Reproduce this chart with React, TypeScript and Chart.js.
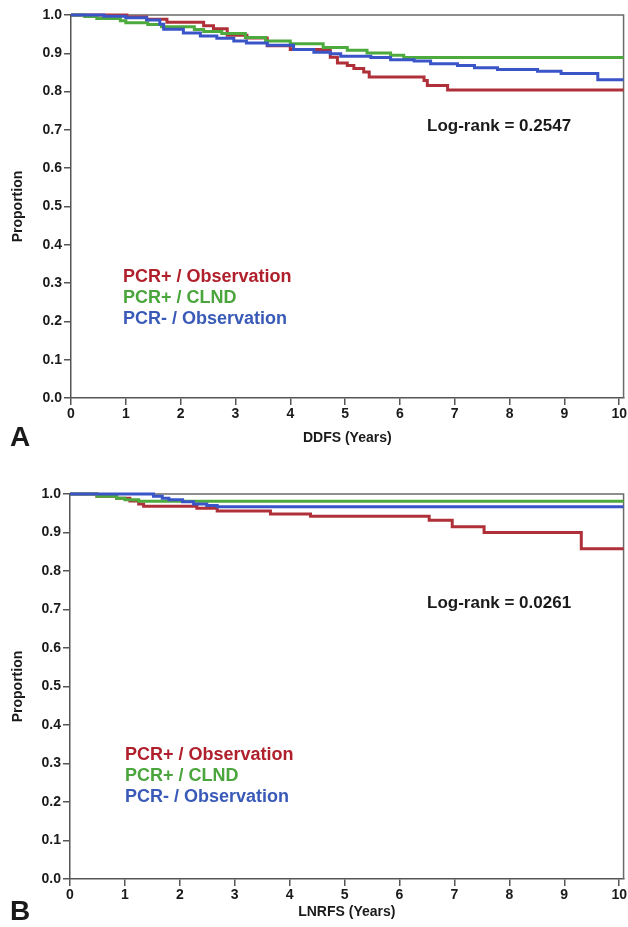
import React, { useEffect, useRef } from "react";
import { Chart, registerables } from "chart.js";

Chart.register(...registerables);

// ---------- data ----------
const xTickValues = [0, 1, 2, 3, 4, 5, 6, 7, 8, 9, 10];
const yTickValues = [0, 0.1, 0.2, 0.3, 0.4, 0.5, 0.6, 0.7, 0.8, 0.9, 1.0];
const xMax = 10.08;
const groupNames = ["PCR+ / Observation", "PCR+ / CLND", "PCR- / Observation"];

// Panel A: DDFS
const aRedTimes = [0, 1.02, 1.38, 1.75, 2.42, 2.6, 2.85, 3.21, 3.58, 4.0, 4.73, 4.86, 5.04, 5.16, 5.34, 5.44, 6.44, 6.5, 6.87, 10.08];
const aRedProps = [1.0, 0.995, 0.989, 0.981, 0.972, 0.964, 0.947, 0.94, 0.92, 0.91, 0.89, 0.875, 0.868, 0.86, 0.851, 0.838, 0.829, 0.816, 0.804, 0.804];
const aGreenTimes = [0, 0.25, 0.47, 0.9, 1.0, 1.4, 1.65, 2.25, 2.42, 2.75, 3.18, 3.55, 4.0, 4.6, 5.04, 5.4, 5.83, 6.07, 10.08];
const aGreenProps = [1.0, 0.996, 0.991, 0.985, 0.98, 0.975, 0.969, 0.962, 0.957, 0.952, 0.941, 0.932, 0.925, 0.915, 0.908, 0.901, 0.895, 0.889, 0.889];
const aBlueTimes = [0, 0.6, 1.0, 1.38, 1.62, 1.69, 2.05, 2.36, 2.66, 2.97, 3.2, 3.58, 4.06, 4.43, 4.73, 4.92, 5.47, 5.83, 6.26, 6.56, 7.05, 7.36, 7.78, 8.51, 8.94, 9.61, 10.08];
const aBlueProps = [1.0, 0.997, 0.993, 0.987, 0.976, 0.963, 0.953, 0.945, 0.939, 0.932, 0.927, 0.921, 0.91, 0.903, 0.899, 0.892, 0.889, 0.883, 0.88, 0.873, 0.868, 0.862, 0.858, 0.853, 0.847, 0.831, 0.831];

// Panel B: LNRFS
const bRedTimes = [0, 0.49, 0.85, 1.09, 1.25, 1.34, 2.31, 2.68, 3.65, 4.38, 6.54, 6.96, 7.54, 9.31, 10.08];
const bRedProps = [1.0, 0.994, 0.989, 0.982, 0.974, 0.968, 0.963, 0.956, 0.948, 0.942, 0.932, 0.915, 0.9, 0.858, 0.858];
const bGreenTimes = [0, 0.49, 0.85, 1.0, 1.25, 10.08];
const bGreenProps = [1.0, 0.994, 0.989, 0.985, 0.981, 0.981];
const bBlueTimes = [0, 1.52, 1.68, 1.8, 2.05, 2.25, 2.49, 2.68, 10.08];
const bBlueProps = [1.0, 0.994, 0.989, 0.985, 0.98, 0.974, 0.97, 0.967, 0.967];

const aLogRank = "Log-rank = 0.2547";
const bLogRank = "Log-rank = 0.0261";

// ---------- styles ----------
const lineColors = ["#b0303a", "#4daa3c", "#3a55c8"];
const textColors = ["#b0202c", "#4aa53c", "#3a5ab8"];
const FONT = "'Liberation Sans', Arial, Helvetica, sans-serif";

type PanelProps = {
  canvasTop: number;
  canvasHeight: number;
  padTop: number;
  axisLeft: number;
  xAxisHeight: number;
  letter: string;
  xTitle: string;
  xTitleOffset: number;
  logRank: string;
  logRankX: number;
  logRankY: number;
  legendX: number;
  legendY: number;
  times: number[][];
  props: number[][];
};

function toPoints(t: number[], p: number[]) {
  return t.map((x, i) => ({ x, y: p[i] }));
}

function Panel(pp: PanelProps) {
  const ref = useRef<HTMLCanvasElement | null>(null);
  useEffect(() => {
    if (!ref.current) return;
    const decor = {
      id: "decor",
      beforeDatasetsDraw(chart: any) {
        const ctx = chart.ctx;
        const { left, right, top, bottom } = chart.chartArea;
        ctx.save();
        ctx.strokeStyle = "#6a6a6a";
        ctx.lineWidth = 1.5;
        ctx.beginPath();
        ctx.moveTo(left, top);
        ctx.lineTo(right, top);
        ctx.lineTo(right, bottom);
        ctx.stroke();
        ctx.restore();
      },
      afterDraw(chart: any) {
        const ctx = chart.ctx;
        const { left, right, top, bottom } = chart.chartArea;
        ctx.save();
        ctx.fillStyle = "#1a1a1a";
        ctx.textBaseline = "middle";
        // x title
        ctx.font = `bold 14px ${FONT}`;
        ctx.textAlign = "center";
        ctx.fillText(pp.xTitle, (left + right) / 2, bottom + pp.xTitleOffset);
        // panel letter
        ctx.font = `bold 28px ${FONT}`;
        ctx.textAlign = "left";
        ctx.fillText(pp.letter, 10, bottom + pp.xTitleOffset);
        // y title
        ctx.save();
        ctx.translate(18, (top + bottom) / 2);
        ctx.rotate(-Math.PI / 2);
        ctx.font = `bold 14px ${FONT}`;
        ctx.textAlign = "center";
        ctx.fillText("Proportion", 0, 0);
        ctx.restore();
        // log-rank
        ctx.font = `bold 17px ${FONT}`;
        ctx.textAlign = "left";
        ctx.fillStyle = "#1a1a1a";
        ctx.fillText(pp.logRank, pp.logRankX, pp.logRankY);
        // legend
        ctx.font = `bold 18px ${FONT}`;
        groupNames.forEach((name, i) => {
          ctx.fillStyle = textColors[i];
          ctx.fillText(name, pp.legendX, pp.legendY + i * 21);
        });
        ctx.restore();
      },
    };

    const order = [2, 1, 0];
    const datasets = order.map((i) => ({
      label: groupNames[i],
      data: toPoints(pp.times[i], pp.props[i]),
      borderColor: lineColors[i],
      borderWidth: 3,
      pointRadius: 0,
      stepped: "before" as const,
      fill: false,
      clip: 4,
      tension: 0,
    }));

    const tickFont = { family: FONT, size: 14, weight: "bold" as const };
    const chart = new Chart(ref.current, {
      type: "line",
      data: { datasets },
      plugins: [decor],
      options: {
        animation: false,
        responsive: false,
        devicePixelRatio: 1,
        layout: { padding: { top: pp.padTop, right: 4, left: 0, bottom: 0 } },
        plugins: { legend: { display: false }, tooltip: { enabled: false } },
        scales: {
          x: {
            type: "linear",
            min: 0,
            max: xMax,
            afterBuildTicks: (s: any) => {
              s.ticks = xTickValues.map((v) => ({ value: v }));
            },
            afterFit: (s: any) => {
              s.height = pp.xAxisHeight;
            },
            ticks: {
              font: tickFont,
              color: "#1a1a1a",
              padding: 1,
              maxRotation: 0,
              autoSkip: false,
              callback: (v: any) => String(v),
            },
            grid: {
              display: true,
              drawOnChartArea: false,
              drawTicks: true,
              tickLength: 7,
              color: "#555",
              lineWidth: 1.5,
            },
            border: { display: true, color: "#555", width: 1.5 },
          },
          y: {
            type: "linear",
            min: 0,
            max: 1,
            afterBuildTicks: (s: any) => {
              s.ticks = yTickValues.map((v) => ({ value: v }));
            },
            afterFit: (s: any) => {
              s.width = pp.axisLeft;
            },
            ticks: {
              font: tickFont,
              color: "#1a1a1a",
              padding: 2,
              autoSkip: false,
              callback: (v: any) => Number(v).toFixed(1),
            },
            grid: {
              display: true,
              drawOnChartArea: false,
              drawTicks: true,
              tickLength: 7,
              color: "#555",
              lineWidth: 1.5,
            },
            border: { display: true, color: "#555", width: 1.5 },
          },
        },
      },
    });
    return () => chart.destroy();
  }, []);

  return (
    <canvas
      ref={ref}
      width={628}
      height={pp.canvasHeight}
      style={{ position: "absolute", left: 0, top: pp.canvasTop, width: 628, height: pp.canvasHeight }}
    />
  );
}

export default function App() {
  return (
    <div style={{ position: "absolute", left: 0, top: 0, width: 628, height: 927, background: "#fff" }}>
      <Panel
        canvasTop={0}
        canvasHeight={463}
        padTop={15}
        axisLeft={71}
        xAxisHeight={65}
        letter="A"
        xTitle="DDFS (Years)"
        xTitleOffset={40}
        logRank={aLogRank}
        logRankX={427}
        logRankY={126}
        legendX={123}
        legendY={277}
        times={[aRedTimes, aGreenTimes, aBlueTimes]}
        props={[aRedProps, aGreenProps, aBlueProps]}
      />
      <Panel
        canvasTop={463}
        canvasHeight={464}
        padTop={31}
        axisLeft={70}
        xAxisHeight={48}
        letter="B"
        xTitle="LNRFS (Years)"
        xTitleOffset={33}
        logRank={bLogRank}
        logRankX={427}
        logRankY={140}
        legendX={125}
        legendY={292}
        times={[bRedTimes, bGreenTimes, bBlueTimes]}
        props={[bRedProps, bGreenProps, bBlueProps]}
      />
    </div>
  );
}
